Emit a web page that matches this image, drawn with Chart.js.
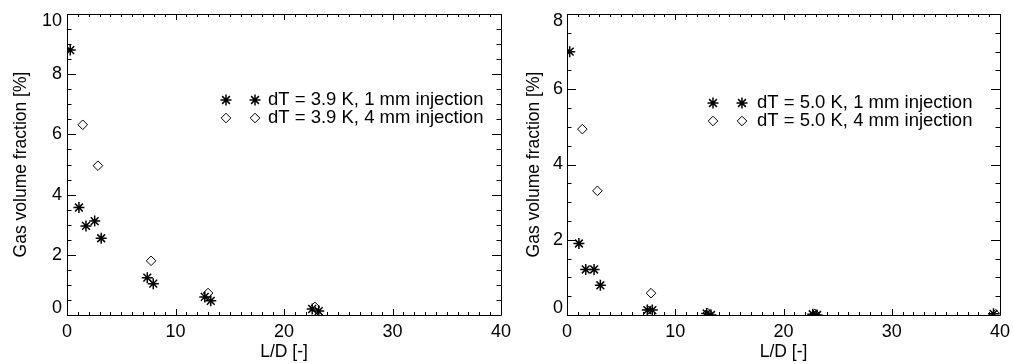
<!DOCTYPE html>
<html>
<head>
<meta charset="utf-8">
<script src="https://cdn.jsdelivr.net/npm/chart.js@4/dist/chart.umd.min.js"></script>
<style>
  body { margin: 0; background: #fff; }
  #wrap { position: relative; width: 1013px; height: 364px; }
  canvas { position: absolute; top: 0; }
</style>
</head>
<body>
<div id="wrap">
  <canvas id="Graph1" width="520" height="364" style="left:0"></canvas>
  <canvas id="Graph2" width="507" height="364" style="left:506px"></canvas>
</div>
<script>
// dT = 3.9 K runs
const ld39_1mm  = [0.3, 1.1, 1.75, 2.55, 3.15, 7.4, 7.95, 12.7, 13.25, 22.6, 23.2];
const gvf39_1mm = [8.8, 3.57, 2.96, 3.12, 2.55, 1.24, 1.04, 0.6, 0.47, 0.2, 0.13];
const ld39_4mm  = [1.45, 2.85, 7.75, 13.0, 22.85];
const gvf39_4mm = [6.32, 4.96, 1.8, 0.73, 0.27];

// dT = 5.0 K runs
const ld50_1mm  = [0.25, 1.1, 1.73, 2.5, 3.08, 7.42, 7.88, 12.9, 13.3, 22.7, 23.1, 39.4];
const gvf50_1mm = [7.0, 1.9, 1.21, 1.21, 0.79, 0.13, 0.13, 0.04, 0.0, 0.02, 0.0, 0.03];
const ld50_4mm  = [1.42, 2.81, 7.76, 13.0, 22.9, 39.6];
const gvf50_4mm = [4.94, 3.3, 0.58, 0.05, 0.03, 0.02];

const labels39 = ['dT = 3.9 K, 1 mm injection', 'dT = 3.9 K, 4 mm injection'];
const labels50 = ['dT = 5.0 K, 1 mm injection', 'dT = 5.0 K, 4 mm injection'];

const xTicks = [0, 10, 20, 30, 40];
const yTicks39 = [0, 2, 4, 6, 8, 10];
const yTicks50 = [0, 2, 4, 6, 8];

const FONT = '"Liberation Sans", Arial, Helvetica, sans-serif';
Chart.defaults.font.family = FONT;
Chart.defaults.font.size = 18;
Chart.defaults.color = '#000';

function toPoints(xs, ys) {
  return xs.map((x, i) => ({x: x, y: ys[i]}));
}

// box around the plot with inward ticks on all four sides
const framePlugin = {
  id: 'frame',
  beforeDatasetsDraw(chart) {
    const ctx = chart.ctx;
    const a = chart.chartArea;
    const xs = chart.scales.x, ys = chart.scales.y;
    const px = v => Math.round(v) + 0.5;
    ctx.save();
    ctx.strokeStyle = '#000';
    ctx.lineWidth = 1;
    ctx.beginPath();
    ctx.rect(px(a.left), px(a.top), Math.round(a.right) - Math.round(a.left), Math.round(a.bottom) - Math.round(a.top));
    for (let v = xs.min; v <= xs.max; v += 1) {
      const len = v % 10 === 0 ? 6 : 3;
      const x = px(xs.getPixelForValue(v));
      ctx.moveTo(x, a.bottom); ctx.lineTo(x, a.bottom - len);
      ctx.moveTo(x, a.top); ctx.lineTo(x, a.top + len);
    }
    for (let v = ys.min; v <= ys.max + 1e-9; v += 0.5) {
      const len = v % 2 === 0 ? 9 : 4.5;
      const y = px(ys.getPixelForValue(v));
      ctx.moveTo(a.left, y); ctx.lineTo(a.left + len, y);
      ctx.moveTo(a.right, y); ctx.lineTo(a.right - len, y);
    }
    ctx.stroke();
    ctx.restore();
  }
};

// key with two symbols in front of each label
const keyPlugin = {
  id: 'key',
  afterDatasetsDraw(chart, args, opts) {
    const ctx = chart.ctx;
    const {left, top} = chart.chartArea;
    ctx.save();
    ctx.textBaseline = 'middle';
    ctx.font = '18.5px ' + FONT;
    chart.data.datasets.forEach((ds, i) => {
      const y = top + opts.y + i * opts.gap;
      ctx.strokeStyle = '#000';
      ctx.fillStyle = 'rgba(0,0,0,0)';
      ctx.lineWidth = ds.borderWidth;
      [opts.sym1, opts.sym2].forEach(x => {
        Chart.helpers.drawPoint(ctx, {
          pointStyle: ds.pointStyle, radius: ds.pointRadius,
          borderWidth: ds.borderWidth, rotation: 0
        }, left + x, y);
      });
      ctx.fillStyle = '#000';
      ctx.fillText(ds.label, left + opts.text, y);
    });
    ctx.restore();
  }
};

function makeChart(canvas, cfg) {
  return new Chart(canvas, {
    type: 'scatter',
    data: {
      datasets: [{
        label: cfg.labels[0],
        data: toPoints(cfg.x1, cfg.y1),
        pointStyle: 'star',
        pointRadius: 5.5,
        borderWidth: 1.5,
        borderColor: '#000',
        backgroundColor: 'rgba(0,0,0,0)',
        clip: 0
      }, {
        label: cfg.labels[1],
        data: toPoints(cfg.x2, cfg.y2),
        pointStyle: 'rectRot',
        pointRadius: 4.8,
        borderWidth: 1,
        borderColor: '#000',
        backgroundColor: 'rgba(0,0,0,0)',
        clip: 0
      }]
    },
    options: {
      responsive: false,
      devicePixelRatio: 1,
      animation: false,
      events: [],
      layout: { padding: { top: 14, right: cfg.padRight, left: 0, bottom: 0 } },
      plugins: {
        legend: { display: false },
        tooltip: { enabled: false },
        key: cfg.key
      },
      scales: {
        x: {
          type: 'linear',
          min: 0,
          max: 40,
          afterBuildTicks: s => { s.ticks = xTicks.map(v => ({value: v})); },
          afterFit: s => { s.height = 49; s.paddingLeft = 0; s.paddingRight = 0; },
          grid: { display: false, drawTicks: false },
          border: { display: false },
          ticks: { autoSkip: false, maxRotation: 0, padding: 6 },
          title: { display: true, text: 'L/D [-]', font: { size: 17.5 }, padding: { top: 0, bottom: 1 } }
        },
        y: {
          type: 'linear',
          min: 0,
          max: cfg.yMax,
          afterBuildTicks: s => { s.ticks = cfg.yTicks.map(v => ({value: v})); },
          afterFit: s => { s.width = cfg.axisWidth; s.paddingTop = 0; s.paddingBottom = 0; },
          grid: { display: false, drawTicks: false },
          border: { display: false },
          ticks: {
            autoSkip: false,
            padding: cfg.tickPad,
            font: { lineHeight: 0.75 },
            // end labels sit inside the axis range
            callback: v => v === 0 ? ['0', ''] : (v === cfg.yMax ? ['', String(v)] : String(v))
          },
          title: { display: true, text: 'Gas volume fraction [%]', font: { size: 17.5 }, padding: { top: cfg.titlePad, bottom: 0 } }
        }
      }
    },
    plugins: [framePlugin, keyPlugin]
  });
}

makeChart(document.getElementById('Graph1'), {
  x1: ld39_1mm, y1: gvf39_1mm, x2: ld39_4mm, y2: gvf39_4mm,
  labels: labels39, yMax: 10, yTicks: yTicks39,
  axisWidth: 67, padRight: 19, tickPad: 5, titlePad: 11,
  key: { sym1: 159, sym2: 188, text: 201, y: 86, gap: 18 }
});

makeChart(document.getElementById('Graph2'), {
  x1: ld50_1mm, y1: gvf50_1mm, x2: ld50_4mm, y2: gvf50_4mm,
  labels: labels50, yMax: 8, yTicks: yTicks50,
  axisWidth: 61, padRight: 13, tickPad: 4, titlePad: 18,
  key: { sym1: 146, sym2: 175, text: 190, y: 89, gap: 18 }
});
</script>
</body>
</html>
